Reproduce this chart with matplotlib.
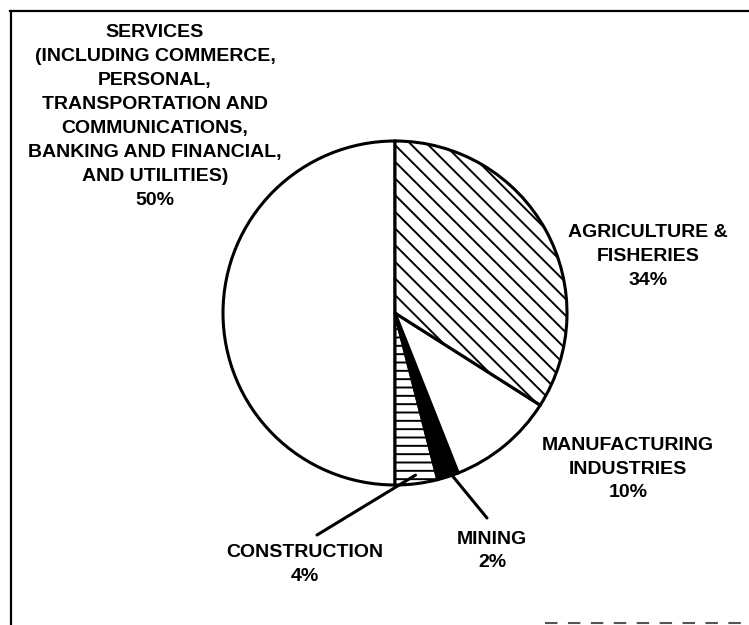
import numpy as np
import matplotlib
matplotlib.use('Agg')
import matplotlib.pyplot as plt

W, H = 749, 625

# Доли секторов (по часовой стрелке снизу вверх, начиная с услуг)
sectors = ['SERVICES', 'CONSTRUCTION', 'MINING', 'MANUFACTURING', 'AGRICULTURE']
shares = [50, 4, 2, 10, 34]
fills = ['white', 'white', 'black', 'white', 'white']
hatches = ['', '--', '', '', '\\\\']

labels = [
    'SERVICES\n(INCLUDING COMMERCE,\nPERSONAL,\nTRANSPORTATION AND\nCOMMUNICATIONS,\nBANKING AND FINANCIAL,\nAND UTILITIES)\n50%',
    'CONSTRUCTION\n4%',
    'MINING\n2%',
    'MANUFACTURING\nINDUSTRIES\n10%',
    'AGRICULTURE &\nFISHERIES\n34%',
]
# центры подписей, пиксели от верхнего левого угла
label_pos = [(155, 116.5), (305, 564.5), (492, 551), (628, 469), (648, 256.5)]

plt.rcParams['font.family'] = ['Liberation Sans', 'DejaVu Sans']
plt.rcParams['hatch.linewidth'] = 1.4

fig = plt.figure(figsize=(W / 100, H / 100), dpi=100)
ax = fig.add_axes([0, 0, 1, 1])

cx, cy, r = 395, 313, 172
wedges, _ = ax.pie(shares, startangle=90, counterclock=True, center=(cx, H - cy),
                   radius=r, colors=fills, hatch=hatches,
                   wedgeprops=dict(edgecolor='black', linewidth=2.2))

ax.set_xlim(0, W)
ax.set_ylim(0, H)
ax.set_aspect('equal')
ax.axis('off')

for text, (x, y) in zip(labels, label_pos):
    ax.text(x, H - y, text, ha='center', va='center', fontsize=14,
            fontweight='bold', linespacing=1.53)

# выноски для маленьких секторов
leaders = {1: ((317, 535), 0.95), 2: ((487, 518), 0.94)}
for i, ((ex, ey), k) in leaders.items():
    w = wedges[i]
    mid = np.deg2rad((w.theta1 + w.theta2) / 2)
    sx = cx + k * r * np.cos(mid)
    sy = (H - cy) + k * r * np.sin(mid)
    ax.annotate('', xy=(sx, sy), xytext=(ex, H - ey),
                arrowprops=dict(arrowstyle='-', lw=2.2, color='black',
                                shrinkA=0, shrinkB=0))

# рамка (скан: верх и левый край, внизу справа обрывки)
ax.plot([10, W], [H - 11, H - 11], color='black', lw=1.6, clip_on=False)
ax.plot([10.5, 10.5], [H - 11, 0], color='black', lw=1.6, clip_on=False)
ax.plot([545, W], [2, 2], color='#555555', lw=1.5, linestyle=(0, (6, 5)), clip_on=False)

fig.savefig('out.png', dpi=100)
